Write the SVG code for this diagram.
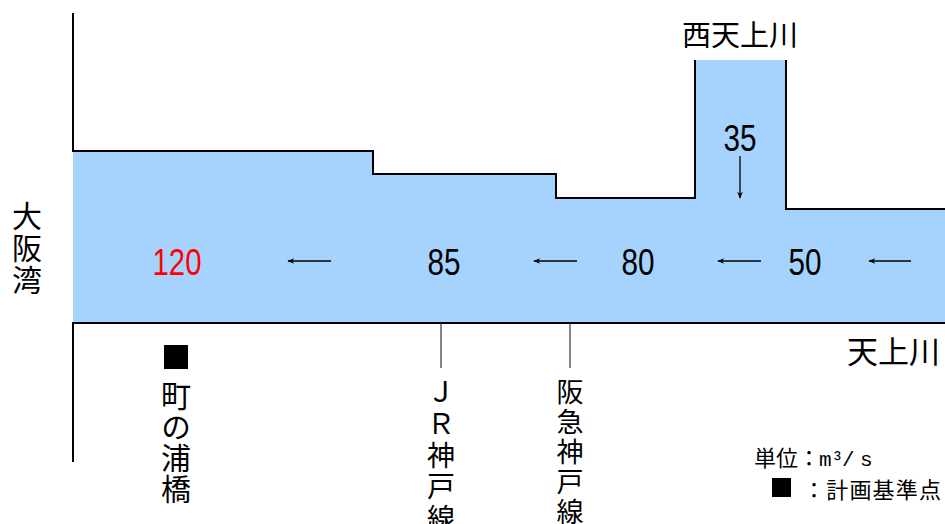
<svg xmlns="http://www.w3.org/2000/svg" width="945" height="524" viewBox="0 0 945 524">
  <style>
    .wall { fill: none; stroke: #000; stroke-width: 2; }
    .tick { fill: none; stroke: #333; stroke-width: 1.2; }
    .flow { fill: none; stroke: #000; stroke-width: 1.3; marker-end: url(#ah); }
    .num { font-family: "Liberation Sans", Arial, sans-serif; font-size: 36px; fill: #000; text-anchor: middle; }
    .jp { font-family: "Noto Sans CJK JP", "Noto Sans", sans-serif; fill: #000; }
    .vt { writing-mode: vertical-rl; text-orientation: upright; }
    .mono { font-family: "Liberation Mono", "DejaVu Sans Mono", monospace; }
  </style>
  <defs>
    <marker id="ah" viewBox="0 0 10 10" refX="9" refY="5" markerWidth="8" markerHeight="7" markerUnits="userSpaceOnUse" orient="auto">
      <path d="M0,1 L10,5 L0,9 L3,5 Z" fill="#000"/>
    </marker>
  </defs>
  <rect width="945" height="524" fill="#fff"/>

  <g id="river">
    <polygon points="73,151 373,151 373,174 556,174 556,198 695,198 695,60 786,60 786,209 945,209 945,323 73,323" fill="#a6d3fe"/>
    <path class="wall" d="M73,13 V151 H373 V174 H556 V198 H695 V60 M786,60 V209 H945"/>
    <path class="wall" d="M945,323 H73 V462"/>
  </g>

  <g id="connectors">
    <line class="flow" x1="331" y1="261" x2="288" y2="261"/>
    <line class="flow" x1="577" y1="261" x2="534" y2="261"/>
    <line class="flow" x1="761" y1="261" x2="718" y2="261"/>
    <line class="flow" x1="911" y1="261" x2="869" y2="261"/>
    <line class="flow" x1="740" y1="156" x2="740" y2="198"/>
    <line class="tick" x1="441" y1="323" x2="441" y2="368"/>
    <line class="tick" x1="570" y1="323" x2="570" y2="368"/>
  </g>

  <g id="q120"><text class="num" x="177" y="275" style="fill:#ff0000" textLength="49" lengthAdjust="spacingAndGlyphs">120</text></g>
  <g id="q85"><text class="num" x="444" y="275" textLength="33" lengthAdjust="spacingAndGlyphs">85</text></g>
  <g id="q80"><text class="num" x="638" y="275" textLength="33" lengthAdjust="spacingAndGlyphs">80</text></g>
  <g id="q50"><text class="num" x="805" y="275" textLength="33" lengthAdjust="spacingAndGlyphs">50</text></g>
  <g id="q35"><text class="num" x="740" y="151" textLength="33" lengthAdjust="spacingAndGlyphs">35</text></g>

  <g id="nishitenjo"><text class="jp" x="740" y="46" font-size="29" text-anchor="middle">西天上川</text></g>
  <g id="tenjo"><text class="jp" x="940" y="363" font-size="31" text-anchor="end">天上川</text></g>

  <g id="osakabay">
    <text class="jp vt" x="27" y="201" font-size="30" letter-spacing="2">大阪湾</text>
  </g>

  <g id="machinoura">
    <rect x="164" y="345" width="24" height="24" fill="#000"/>
    <text class="jp vt" x="176" y="381" font-size="30" letter-spacing="1">町の浦橋</text>
  </g>

  <g id="jr">
    <text class="jp vt" x="441" y="378" font-size="28" letter-spacing="3.5">ＪＲ神戸線</text>
  </g>

  <g id="hankyu">
    <text class="jp vt" x="570" y="378" font-size="27" letter-spacing="3">阪急神戸線</text>
  </g>

  <g id="legend">
    <text class="jp" font-size="22" x="754" y="466">単位：<tspan class="mono" font-size="21" x="819 831 842 860">m³/s</tspan></text>
    <rect x="772" y="478" width="19" height="19" fill="#000"/>
    <text class="jp" font-size="22" x="803" y="498" textLength="138" lengthAdjust="spacing">：計画基準点</text>
  </g>
</svg>
